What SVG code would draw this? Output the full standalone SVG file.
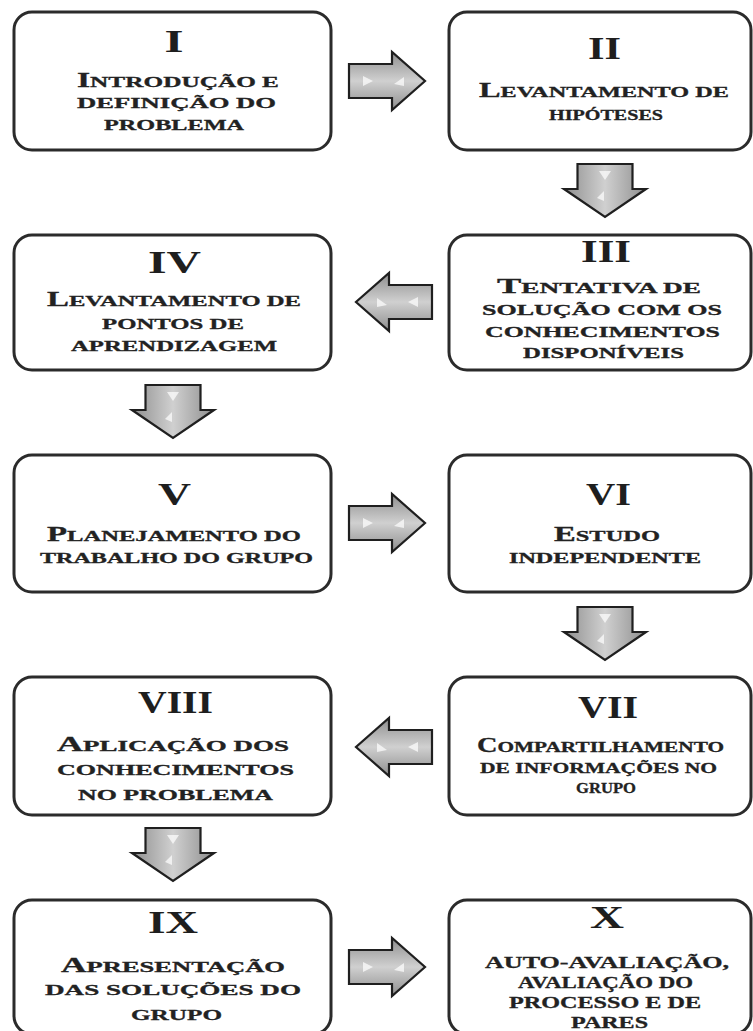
<svg xmlns="http://www.w3.org/2000/svg" width="753" height="1031" viewBox="0 0 753 1031">
  <style>
    .box { fill: #ffffff; stroke: #2b2b2b; stroke-width: 3; }
    .num { font-family: "Liberation Serif", "Times New Roman", serif; font-weight: bold; font-size: 31px; fill: #1e1e1e; text-anchor: middle; }
    .t { font-family: "Liberation Serif", "Times New Roman", serif; font-weight: bold; font-size: 15px; fill: #222222; text-anchor: middle; stroke: #222222; stroke-width: 0.3; }
    .t .ini { font-size: 20px; }
    .tx { font-size: 16px; }
    .arrow-h { fill: url(#gradH); stroke: #1f1f1f; stroke-width: 2.2; stroke-linejoin: miter; }
    .arrow-v { fill: url(#gradV); stroke: #1f1f1f; stroke-width: 2.2; stroke-linejoin: miter; }
    .hl { fill: #ffffff; opacity: 0.7; }
  </style>
  <defs>
    <linearGradient id="gradH" x1="0" y1="0" x2="0" y2="1">
      <stop offset="0" stop-color="#8e8e8e"/>
      <stop offset="0.5" stop-color="#d0d0d0"/>
      <stop offset="1" stop-color="#8e8e8e"/>
    </linearGradient>
    <linearGradient id="gradV" x1="0" y1="0" x2="1" y2="0">
      <stop offset="0" stop-color="#8e8e8e"/>
      <stop offset="0.5" stop-color="#d0d0d0"/>
      <stop offset="1" stop-color="#8e8e8e"/>
    </linearGradient>
    <!-- block arrow pointing right, tail at origin, centred vertically -->
    <g id="arrowRight">
      <path class="arrow-h" d="M0,-17 H43 V-29 L76,0 L43,29 V17 H0 Z"/>
      <path class="hl" d="M14,-5 L24,0 L14,5 Z"/>
      <path class="hl" d="M55,-4 L55,5 L45,3 Z"/>
    </g>
    <!-- block arrow pointing down, top centre at origin -->
    <g id="arrowDown">
      <path class="arrow-v" d="M-27.5,0 H27.5 V25 H41 L0,53 L-41,25 H-27.5 Z"/>
      <path class="hl" d="M-6,7 L6,7 L0,16 Z"/>
      <path class="hl" d="M-1,27 L-1,37 L-8,34 Z"/>
    </g>
  </defs>

  <!-- connectors -->
  <g id="connectors">
    <use href="#arrowRight" transform="translate(349,81)"/>
    <use href="#arrowDown" transform="translate(605,164)"/>
    <use href="#arrowRight" transform="translate(432,302) scale(-1,1)"/>
    <use href="#arrowDown" transform="translate(173,385)"/>
    <use href="#arrowRight" transform="translate(349,523)"/>
    <use href="#arrowDown" transform="translate(605,607)"/>
    <use href="#arrowRight" transform="translate(432,747) scale(-1,1)"/>
    <use href="#arrowDown" transform="translate(173,828)"/>
    <use href="#arrowRight" transform="translate(349,967)"/>
  </g>

  <g id="node-I">
    <rect class="box" x="14" y="12" width="317" height="138" rx="18"/>
    <text class="num" x="174" y="52" textLength="19" lengthAdjust="spacingAndGlyphs">I</text>
    <text class="t" x="178" y="87" textLength="202" lengthAdjust="spacingAndGlyphs"><tspan class="ini">I</tspan>NTRODUÇÃO E</text>
    <text class="t" x="176.5" y="108" textLength="199" lengthAdjust="spacingAndGlyphs">DEFINIÇÃO DO</text>
    <text class="t" x="174" y="130" textLength="140" lengthAdjust="spacingAndGlyphs">PROBLEMA</text>
  </g>

  <g id="node-II">
    <rect class="box" x="449" y="12" width="302" height="138" rx="18"/>
    <text class="num" x="604.5" y="59" textLength="33" lengthAdjust="spacingAndGlyphs">II</text>
    <text class="t" x="604" y="97" textLength="250" lengthAdjust="spacingAndGlyphs"><tspan class="ini">L</tspan>EVANTAMENTO DE</text>
    <text class="t" x="606" y="120" textLength="114" lengthAdjust="spacingAndGlyphs">HIPÓTESES</text>
  </g>

  <g id="node-III">
    <rect class="box" x="449" y="235" width="302" height="135" rx="18"/>
    <text class="num" x="606" y="262" textLength="50" lengthAdjust="spacingAndGlyphs">III</text>
    <text class="t" x="599" y="293" textLength="204" lengthAdjust="spacingAndGlyphs"><tspan class="ini">T</tspan>ENTATIVA DE</text>
    <text class="t" x="602" y="315" textLength="240" lengthAdjust="spacingAndGlyphs">SOLUÇÃO COM OS</text>
    <text class="t" x="602.5" y="337" textLength="235" lengthAdjust="spacingAndGlyphs">CONHECIMENTOS</text>
    <text class="t" x="603.5" y="358" textLength="161" lengthAdjust="spacingAndGlyphs">DISPONÍVEIS</text>
  </g>

  <g id="node-IV">
    <rect class="box" x="14" y="235" width="317" height="135" rx="18"/>
    <text class="num" x="174.5" y="273" textLength="53" lengthAdjust="spacingAndGlyphs">IV</text>
    <text class="t" x="174" y="306" textLength="254" lengthAdjust="spacingAndGlyphs"><tspan class="ini">L</tspan>EVANTAMENTO DE</text>
    <text class="t" x="173" y="329" textLength="142" lengthAdjust="spacingAndGlyphs">PONTOS DE</text>
    <text class="t" x="174" y="351" textLength="206" lengthAdjust="spacingAndGlyphs">APRENDIZAGEM</text>
  </g>

  <g id="node-V">
    <rect class="box" x="14" y="455" width="317" height="137" rx="18"/>
    <text class="num" x="174.5" y="505" textLength="33" lengthAdjust="spacingAndGlyphs">V</text>
    <text class="t" x="174" y="541" textLength="254" lengthAdjust="spacingAndGlyphs"><tspan class="ini">P</tspan>LANEJAMENTO DO</text>
    <text class="t" x="176.5" y="563" textLength="273" lengthAdjust="spacingAndGlyphs">TRABALHO DO GRUPO</text>
  </g>

  <g id="node-VI">
    <rect class="box" x="449" y="455" width="302" height="137" rx="18"/>
    <text class="num" x="608.5" y="505" textLength="45" lengthAdjust="spacingAndGlyphs">VI</text>
    <text class="t" x="607" y="541" textLength="106" lengthAdjust="spacingAndGlyphs"><tspan class="ini">E</tspan>STUDO</text>
    <text class="t" x="605" y="563" textLength="192" lengthAdjust="spacingAndGlyphs">INDEPENDENTE</text>
  </g>

  <g id="node-VII">
    <rect class="box" x="449" y="677" width="302" height="138" rx="18"/>
    <text class="num" x="608" y="718" textLength="60" lengthAdjust="spacingAndGlyphs">VII</text>
    <text class="t" x="600.5" y="752" textLength="247" lengthAdjust="spacingAndGlyphs"><tspan class="ini">C</tspan>OMPARTILHAMENTO</text>
    <text class="t" x="598.5" y="773" textLength="237" lengthAdjust="spacingAndGlyphs">DE INFORMAÇÕES NO</text>
    <text class="t" x="606" y="793" textLength="60" lengthAdjust="spacingAndGlyphs">GRUPO</text>
  </g>

  <g id="node-VIII">
    <rect class="box" x="14" y="677" width="317" height="138" rx="18"/>
    <text class="num" x="175.5" y="713" textLength="75" lengthAdjust="spacingAndGlyphs">VIII</text>
    <text class="t" x="173" y="751" textLength="232" lengthAdjust="spacingAndGlyphs"><tspan class="ini">A</tspan>PLICAÇÃO DOS</text>
    <text class="t" x="175.5" y="775" textLength="237" lengthAdjust="spacingAndGlyphs">CONHECIMENTOS</text>
    <text class="t" x="175.5" y="800" textLength="195" lengthAdjust="spacingAndGlyphs">NO PROBLEMA</text>
  </g>

  <g id="node-IX">
    <rect class="box" x="14" y="900" width="317" height="134" rx="18"/>
    <text class="num" x="173" y="933" textLength="50" lengthAdjust="spacingAndGlyphs">IX</text>
    <text class="t" x="173" y="972" textLength="224" lengthAdjust="spacingAndGlyphs"><tspan class="ini">A</tspan>PRESENTAÇÃO</text>
    <text class="t" x="173" y="995" textLength="256" lengthAdjust="spacingAndGlyphs">DAS SOLUÇÕES DO</text>
    <text class="t" x="176.5" y="1020" textLength="91" lengthAdjust="spacingAndGlyphs">GRUPO</text>
  </g>

  <g id="node-X">
    <rect class="box" x="449" y="900" width="302" height="134" rx="18"/>
    <text class="num" x="607" y="928" textLength="34" lengthAdjust="spacingAndGlyphs">X</text>
    <text class="t tx" x="607" y="968" textLength="244" lengthAdjust="spacingAndGlyphs">AUTO-AVALIAÇÃO,</text>
    <text class="t tx" x="605.5" y="988" textLength="175" lengthAdjust="spacingAndGlyphs">AVALIAÇÃO DO</text>
    <text class="t tx" x="605" y="1008" textLength="192" lengthAdjust="spacingAndGlyphs">PROCESSO E DE</text>
    <text class="t tx" x="609.5" y="1028" textLength="77" lengthAdjust="spacingAndGlyphs">PARES</text>
  </g>
</svg>
